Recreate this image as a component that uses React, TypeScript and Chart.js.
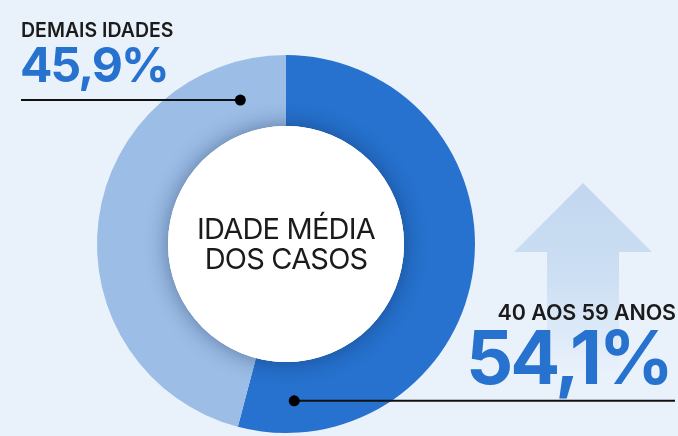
import React, { useEffect, useRef } from "react";
import { Chart, registerables } from "chart.js";

Chart.register(...registerables);

const categories = ["40 AOS 59 ANOS", "DEMAIS IDADES"];
const values = [54.1, 45.9];
const valueLabels = ["54,1%", "45,9%"];
const segmentColors = ["#2672CE", "#9BBDE6"];
const centerLines = ["IDADE MÉDIA", "DOS CASOS"];

const BG = "#E9F1FB";
const BLUE_TEXT = "#2672CE";
const DARK_TEXT = "#1B1B1B";

const decorPlugin = {
  id: "decor",
  beforeDatasetsDraw(chart: any) {
    const ctx = chart.ctx;
    ctx.save();
    // background arrow
    const g = ctx.createLinearGradient(0, 183, 0, 372);
    g.addColorStop(0, "#C2D7EF");
    g.addColorStop(0.5, "#CCDFF3");
    g.addColorStop(1, "rgba(233,241,251,1)");
    ctx.fillStyle = g;
    ctx.beginPath();
    ctx.moveTo(583, 183);
    ctx.lineTo(652, 252);
    ctx.lineTo(619, 252);
    ctx.lineTo(619, 372);
    ctx.lineTo(547, 372);
    ctx.lineTo(547, 252);
    ctx.lineTo(514, 252);
    ctx.closePath();
    ctx.fill();
    ctx.restore();
  },
  afterDatasetsDraw(chart: any) {
    const ctx = chart.ctx;
    const arc = chart.getDatasetMeta(0).data[0];
    const { x, y, innerRadius, outerRadius } = arc.getProps(
      ["x", "y", "innerRadius", "outerRadius"],
      true
    );
    ctx.save();
    // white centre disc with soft shadow
    ctx.shadowColor = "rgba(10,30,70,0.45)";
    ctx.shadowBlur = 22;
    ctx.fillStyle = "#FFFFFF";
    ctx.beginPath();
    ctx.arc(x, y, innerRadius, 0, Math.PI * 2);
    ctx.fill();
    ctx.shadowColor = "transparent";
    ctx.shadowBlur = 0;
    ctx.fillStyle = "#FFFFFF";
    ctx.beginPath();
    ctx.arc(x, y, innerRadius, 0, Math.PI * 2);
    ctx.fill();

    // leader lines
    const mid = (innerRadius + outerRadius) / 2;
    const dots = [
      { ang: 177, r: mid + 3.5, toX: 675 },
      { ang: -17.6, r: mid - 2.5, toX: 21 },
    ];
    ctx.strokeStyle = "#111111";
    ctx.fillStyle = "#000000";
    ctx.lineWidth = 2;
    dots.forEach((d) => {
      const a = (d.ang * Math.PI) / 180;
      const dx = x + d.r * Math.sin(a);
      const dy = y - d.r * Math.cos(a);
      ctx.beginPath();
      ctx.moveTo(dx, dy);
      ctx.lineTo(d.toX, dy);
      ctx.stroke();
      ctx.beginPath();
      ctx.arc(dx, dy, 5.5, 0, Math.PI * 2);
      ctx.fill();
    });
    ctx.restore();
  },
};

export default function App() {
  const ref = useRef<HTMLCanvasElement>(null);
  useEffect(() => {
    const prevMargin = document.body.style.margin;
    document.body.style.margin = "0";
    const chart = new Chart(ref.current as HTMLCanvasElement, {
      type: "doughnut",
      data: {
        labels: categories,
        datasets: [
          {
            data: values,
            backgroundColor: segmentColors,
            borderWidth: 0,
            hoverOffset: 0,
            offset: 0,
          },
        ],
      },
      options: {
        animation: false,
        responsive: false,
        cutout: 118,
        rotation: 0,
        layout: { padding: { left: 97, right: 203, top: 55, bottom: 3 } },
        plugins: {
          legend: { display: false },
          tooltip: { enabled: false },
        },
      },
      plugins: [decorPlugin],
    });
    return () => {
      chart.destroy();
      document.body.style.margin = prevMargin;
    };
  }, []);

  const font = "Inter, 'Noto Sans', sans-serif";
  return (
    <div
      style={{
        position: "fixed",
        left: 0,
        top: 0,
        width: 678,
        height: 436,
        background: BG,
        overflow: "hidden",
        fontFamily: font,
      }}
    >
      <canvas ref={ref} width={678} height={436} style={{ position: "absolute", left: 0, top: 0 }} />
      <div
        style={{
          position: "absolute",
          left: 21,
          top: 20.5,
          fontSize: 19.5,
          lineHeight: 1,
          fontWeight: 600,
          letterSpacing: 0,
          color: DARK_TEXT,
          whiteSpace: "nowrap",
        }}
      >
        {categories[1]}
      </div>
      <div
        style={{
          position: "absolute",
          left: 20,
          top: 41,
          fontSize: 48,
          lineHeight: 1,
          fontWeight: 700,
          letterSpacing: -1.9,
          color: BLUE_TEXT,
          whiteSpace: "nowrap",
        }}
      >
        {valueLabels[1]}
      </div>
      <div
        style={{
          position: "absolute",
          left: 136,
          width: 300,
          top: 214,
          fontSize: 29,
          lineHeight: "30px",
          fontWeight: 400,
          letterSpacing: -0.8,
          color: DARK_TEXT,
          textAlign: "center",
          whiteSpace: "nowrap",
        }}
      >
        {centerLines.map((l) => (
          <div key={l}>{l}</div>
        ))}
      </div>
      <div
        style={{
          position: "absolute",
          right: 2,
          top: 302,
          fontSize: 21.5,
          lineHeight: 1,
          fontWeight: 600,
          letterSpacing: -0.1,
          color: DARK_TEXT,
          whiteSpace: "nowrap",
        }}
      >
        {categories[0]}
      </div>
      <div
        style={{
          position: "absolute",
          right: 7,
          top: 320,
          fontSize: 74,
          lineHeight: 1,
          fontWeight: 700,
          letterSpacing: -3,
          color: BLUE_TEXT,
          whiteSpace: "nowrap",
        }}
      >
        {valueLabels[0]}
      </div>
    </div>
  );
}
